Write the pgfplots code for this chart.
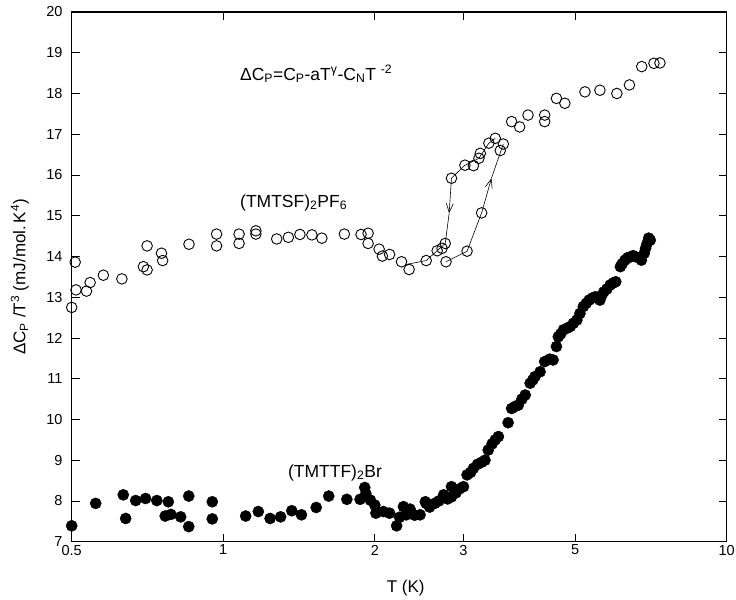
\documentclass[border=0pt]{standalone}
\usepackage{fontspec}
\setmainfont{Liberation Sans}
\usepackage{pgfplots}
\pgfplotsset{compat=1.18}
\usetikzlibrary{arrows.meta}

% (TMTSF)2PF6, open circles
\pgfplotstableread{
T y
0.500 12.75
0.508 13.86
0.510 13.18
0.535 13.15
0.544 13.36
0.578 13.54
0.629 13.45
0.694 13.75
0.706 13.67
0.706 14.26
0.754 14.08
0.758 13.90
0.855 14.30
0.970 14.55
0.970 14.26
1.075 14.55
1.075 14.32
1.161 14.63
1.161 14.55
1.277 14.43
1.347 14.47
1.420 14.54
1.500 14.53
1.570 14.45
1.740 14.55
1.878 14.54
1.940 14.57
1.940 14.32
2.040 14.18
2.070 14.01
2.140 14.05
2.260 13.87
2.340 13.68
2.530 13.90
2.660 14.14
2.720 14.20
2.760 14.32
2.770 13.87
3.050 14.13
3.260 15.07
2.840 15.92
3.020 16.24
3.140 16.23
3.240 16.53
3.220 16.41
3.370 16.78
3.470 16.90
3.600 16.76
3.550 16.60
3.740 17.31
3.880 17.18
4.030 17.47
4.350 17.47
4.350 17.31
4.590 17.88
4.770 17.76
5.230 18.04
5.600 18.08
6.050 18.00
6.410 18.21
6.780 18.66
7.170 18.74
7.370 18.75
}\pfsix

% (TMTTF)2Br, filled circles
\pgfplotstableread{
T y
0.500 7.39
0.558 7.94
0.633 8.15
0.640 7.57
0.670 8.01
0.701 8.06
0.738 8.01
0.778 7.98
0.767 7.63
0.787 7.67
0.823 7.61
0.854 8.12
0.854 7.37
0.951 7.98
0.951 7.56
1.108 7.63
1.174 7.74
1.239 7.57
1.300 7.61
1.368 7.76
1.430 7.66
1.530 7.84
1.620 8.12
1.760 8.04
1.870 8.04
1.910 8.33
1.920 8.18
1.960 8.02
2.000 7.90
2.010 7.70
2.080 7.74
2.140 7.70
2.210 7.39
2.240 7.60
2.280 7.86
2.310 7.66
2.350 7.80
2.400 7.65
2.460 7.66
2.520 7.98
2.530 7.94
2.570 7.85
2.630 7.94
2.680 8.00
2.740 8.15
2.790 8.05
2.840 8.35
2.840 8.10
2.900 8.20
2.950 8.30
3.000 8.35
3.050 8.64
3.100 8.70
3.140 8.80
3.200 8.90
3.260 8.95
3.310 9.00
3.360 9.25
3.420 9.40
3.470 9.50
3.520 9.58
3.680 9.92
3.740 10.27
3.800 10.32
3.855 10.35
3.920 10.50
3.980 10.60
4.070 10.89
4.120 10.97
4.160 11.05
4.260 11.17
4.350 11.42
4.450 11.48
4.520 11.46
4.590 11.79
4.630 12.03
4.680 12.10
4.740 12.20
4.820 12.24
4.890 12.28
4.960 12.36
5.040 12.44
5.110 12.60
5.190 12.77
5.260 12.85
5.330 12.93
5.410 12.98
5.480 13.01
5.600 12.93
5.650 13.05
5.700 13.13
5.780 13.20
5.870 13.30
5.950 13.35
6.020 13.38
6.150 13.75
6.200 13.82
6.280 13.91
6.360 13.97
6.440 13.99
6.520 14.02
6.600 13.99
6.770 13.91
6.860 14.08
6.900 14.20
6.950 14.32
7.000 14.45
7.050 14.40
}\brdata

\begin{document}
\begin{tikzpicture}
\path (0,0) rectangle (736pt,599pt);
\begin{axis}[
  at={(71.7pt,57.3pt)}, anchor=south west,
  scale only axis, width=655pt, height=529.7pt,
  xmode=log, xmin=0.5, xmax=10, ymin=7, ymax=20,
  xtick={0.5,1,2,3,5,10},
  xticklabels={\textnormal{0.5},\textnormal{1},\textnormal{2},\textnormal{3},\textnormal{5},\textnormal{10}},
  minor xtick={},
  ytick={7,8,...,20},
  /pgf/number format/assume math mode=true,
  tick align=inside, major tick length=8pt,
  axis line style={line width=1.1pt}, tick style={line width=0.9pt, black},
  tick label style={font=\fontsize{14.5}{16}\selectfont},
  xticklabel style={inner sep=1pt, yshift=-2pt},
  yticklabel style={inner sep=1pt, xshift=-8pt},
  xlabel={T (K)},
  ylabel={ΔC\textsubscript{P} /T\textsuperscript{3} (mJ/mol.\,K\textsuperscript{4})},
  label style={font=\fontsize{17}{20}\selectfont},
  xlabel style={at={(axis description cs:0.51,-0.087)}, anchor=center},
  ylabel style={at={(axis description cs:-0.079,0.5)}, anchor=center},
  clip=false,
]
% hysteresis loop lines
\addplot[black, line width=0.6pt] coordinates {(2.30,13.80) (2.53,13.90) (2.66,14.14) (2.76,14.32)};
\addplot[black, line width=0.6pt] coordinates {(2.84,15.92) (3.02,16.24) (3.22,16.41) (3.37,16.78) (3.47,16.90)};
\addplot[black, line width=0.6pt, -{Straight Barb[length=9pt, width=7pt]}] coordinates {(2.84,15.92) (2.81,15.06)};
\addplot[black, line width=0.6pt] coordinates {(2.81,15.06) (2.76,14.32)};
\addplot[black, line width=0.6pt, -{Straight Barb[length=9pt, width=7pt]}] coordinates {(2.77,13.87) (3.05,14.13) (3.26,15.07) (3.41,15.92)};
\addplot[black, line width=0.6pt] coordinates {(3.41,15.92) (3.60,16.76)};

\addplot[only marks, mark=*, mark size=5.6pt, black] table[x=T, y=y] {\brdata};
\addplot[only marks, mark=o, mark size=5.3pt, mark options={line width=0.9pt, fill=white}, black] table[x=T, y=y] {\pfsix};

\node[font=\fontsize{17.5}{20}\selectfont, anchor=base] at (axis cs:1.53,18.33)
  {ΔC\textsubscript{P}=C\textsubscript{P}-aT\textsuperscript{γ}-C\textsubscript{N}T \textsuperscript{-2}};
\node[font=\fontsize{17.5}{20}\selectfont, anchor=base] at (axis cs:1.38,15.21)
  {(TMTSF)\textsubscript{2}PF\textsubscript{6}};
\node[font=\fontsize{17.5}{20}\selectfont, anchor=base] at (axis cs:1.667,8.58)
  {(TMTTF)\textsubscript{2}Br};
\end{axis}
\end{tikzpicture}
\end{document}
